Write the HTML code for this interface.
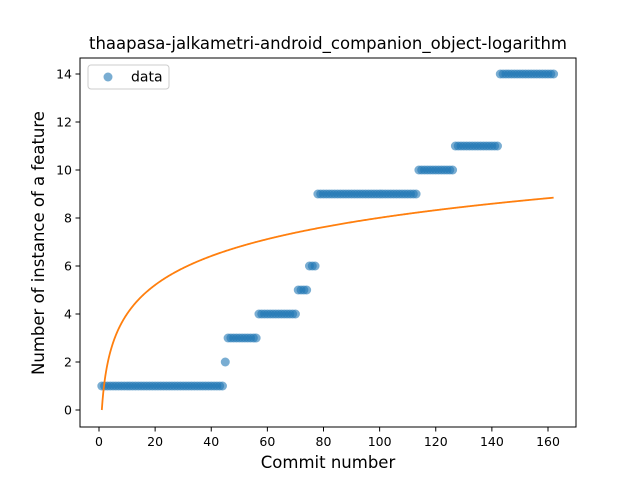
<!DOCTYPE html>
<html><head><meta charset="utf-8"><style>
body{margin:0;background:#fff;font-family:"Liberation Sans","DejaVu Sans",sans-serif;}
svg text{font-family:"DejaVu Sans","Liberation Sans",sans-serif;}
</style></head><body>
<svg id="chart" width="640" height="480" xmlns="http://www.w3.org/2000/svg">
<rect width="640" height="480" fill="#fff"/>
<g id="plot"></g>
</svg>
<script>
const stepStart=[1,45,46,57,71,75,78,114,127,143];
const stepEnd=[44,45,56,70,74,77,113,126,142,162];
const stepValue=[1,2,3,4,5,6,9,10,11,14];
const xTicks=[0,20,40,60,80,100,120,140,160];
const yTicks=[0,2,4,6,8,10,12,14];
const fitA=1.739, fitB=0;
const L=80,R=576,T=58,B=427;
const sx=v=>99+v*(548-99)/160;
const sy=v=>410-v*24;
const NS="http://www.w3.org/2000/svg";
const g=document.getElementById('plot');
function mk(t,a,p){const e=document.createElementNS(NS,t);for(const k in a)e.setAttribute(k,a[k]);(p||g).appendChild(e);return e;}
const pts=mk('g',{});


for(let i=0;i<stepValue.length;i++){for(let x=stepStart[i];x<=stepEnd[i];x++){
 const c=mk('circle',{cx:sx(x),cy:sy(stepValue[i]),r:4.5,fill:'#1f77b4','fill-opacity':0.6},pts);
 
 
}}
let d='';for(let x=1;x<=162;x+=0.25){const y=fitA*Math.log(x)+fitB;d+=(d?'L':'M')+sx(x).toFixed(2)+','+sy(y).toFixed(2);}
const fl=mk('path',{d:d,fill:'none',stroke:'#ff7f0e','stroke-width':1.8});


const fr=mk('rect',{x:L,y:T,width:R-L,height:B-T,fill:'none',stroke:'#000','stroke-width':1});


xTicks.forEach(v=>{const x=sx(v);mk('line',{x1:x,x2:x,y1:B,y2:B+4.5,stroke:'#000','stroke-width':1});
 const t=mk('text',{x:x,y:B+19,'text-anchor':'middle','font-size':12.5});t.textContent=v;
 
 });
yTicks.forEach(v=>{const y=sy(v);mk('line',{x1:L-4.5,x2:L,y1:y,y2:y,stroke:'#000','stroke-width':1});
 const t=mk('text',{x:L-8,y:y+4.5,'text-anchor':'end','font-size':12.5});t.textContent=v;
 
 });
const xt=mk('text',{x:328,y:468,'text-anchor':'middle','font-size':16.5});xt.textContent='Commit number';


const yt=mk('text',{x:0,y:0,'text-anchor':'middle','font-size':16.5,transform:'translate(44,243) rotate(-90)'});yt.textContent='Number of instance of a feature';


const tt=mk('text',{x:328,y:49,'text-anchor':'middle','font-size':16.5});tt.textContent='thaapasa-jalkametri-android_companion_object-logarithm';


const lg=mk('g',{});


mk('rect',{x:88,y:65,width:81,height:24,rx:3,fill:'#fff',stroke:'#ccc','stroke-width':1},lg);
mk('circle',{cx:108,cy:77,r:4.5,fill:'#1f77b4','fill-opacity':0.6},lg);
const lt=mk('text',{x:131,y:81.5,'font-size':14},lg);lt.textContent='data';


</script>
</body></html>
